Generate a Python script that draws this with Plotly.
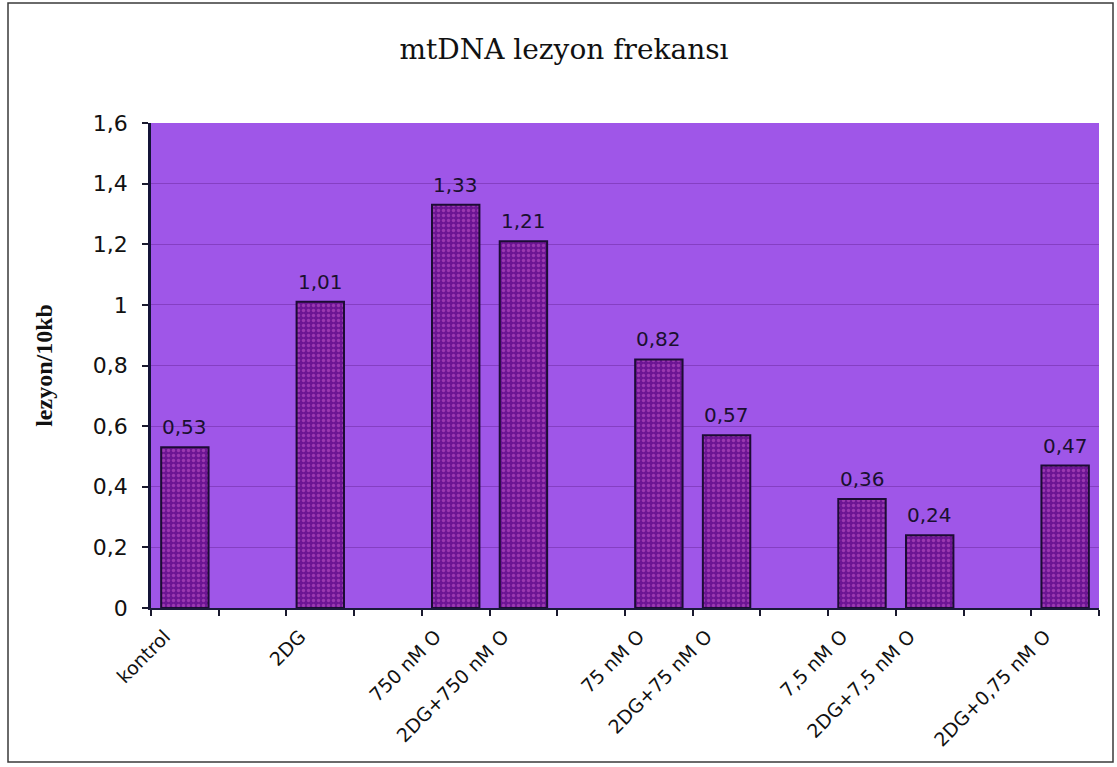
import plotly.graph_objects as go

# Treatment groups; blank slots separate the groups along the category axis
categories = [
    "kontrol", " ", "2DG", "  ", "750 nM O", "2DG+750 nM O", "   ",
    "75 nM O", "2DG+75 nM O", "    ", "7,5 nM O", "2DG+7,5 nM O", "     ",
    "2DG+0,75 nM O",
]
values = [0.53, None, 1.01, None, 1.33, 1.21, None,
          0.82, 0.57, None, 0.36, 0.24, None, 0.47]
value_labels = ["0,53", "", "1,01", "", "1,33", "1,21", "",
                "0,82", "0,57", "", "0,36", "0,24", "", "0,47"]
y_ticks = [0, 0.2, 0.4, 0.6, 0.8, 1.0, 1.2, 1.4, 1.6]
y_tick_text = ["0", "0,2", "0,4", "0,6", "0,8", "1", "1,2", "1,4", "1,6"]

W, H = 1117, 767
M_L, M_R, M_T, M_B = 151, 18, 123, 159
PW, PH = W - M_L - M_R, H - M_T - M_B

fig = go.Figure(
    go.Bar(
        x=categories,
        y=values,
        marker=dict(
            color="#6c1594",
            line=dict(color="#1c0c34", width=2),
            pattern=dict(shape=".", fgcolor="#c85ccc", bgcolor="#6c1594",
                         size=5, solidity=0.35),
        ),
        width=0.7,
    )
)

# value labels above each bar
for cat, val, lab in zip(categories, values, value_labels):
    if val is None:
        continue
    fig.add_annotation(
        x=cat, y=val, text=lab, showarrow=False,
        yanchor="bottom", yshift=6,
        font=dict(family="DejaVu Sans", size=20, color="#1a1030"),
    )

# frame around the whole chart
fig.add_shape(
    type="rect", xref="paper", yref="paper",
    x0=(8 - M_L) / PW, x1=(1113 - M_L) / PW,
    y0=(H - M_B - 762) / PH, y1=(H - M_B - 3) / PH,
    line=dict(color="#3a3a3a", width=1.5), layer="below",
)

fig.update_layout(
    width=W, height=H,
    margin=dict(l=M_L, r=M_R, t=M_T, b=M_B),
    paper_bgcolor="white",
    plot_bgcolor="#9f56e8",
    showlegend=False,
    title=dict(
        text="mtDNA lezyon frekansı",
        x=564 / W, xanchor="center", xref="container",
        y=1 - 49 / H, yanchor="middle", yref="container",
        font=dict(family="DejaVu Serif", size=28, color="#111111"),
    ),
    xaxis=dict(
        type="category",
        tickson="boundaries",
        ticks="outside", ticklen=6, tickwidth=1.5, tickcolor="#1a1a2e",
        showline=True, linecolor="#1a1a3a", linewidth=2,
        showgrid=False,
        tickangle=-45,
        ticklabelshift=-20,
        ticklabelstandoff=8,
        tickfont=dict(family="DejaVu Sans", size=19, color="#111111"),
        range=[-0.5, 13.5],
    ),
    yaxis=dict(
        range=[0, 1.6],
        tickvals=y_ticks, ticktext=y_tick_text,
        ticks="outside", ticklen=6, tickwidth=1.5, tickcolor="#1a1a2e",
        showline=True, linecolor="#141438", linewidth=2.5,
        showgrid=True, gridcolor="rgba(95,30,140,0.4)", gridwidth=1,
        zeroline=False,
        ticklabelstandoff=10,
        tickfont=dict(family="DejaVu Sans", size=22, color="#111111"),
        title=dict(
            text="<b>lezyon/10kb</b>",
            font=dict(family="Liberation Serif", size=24, color="#111111"),
            standoff=34,
        ),
    ),
)

fig.write_html("out.html")
